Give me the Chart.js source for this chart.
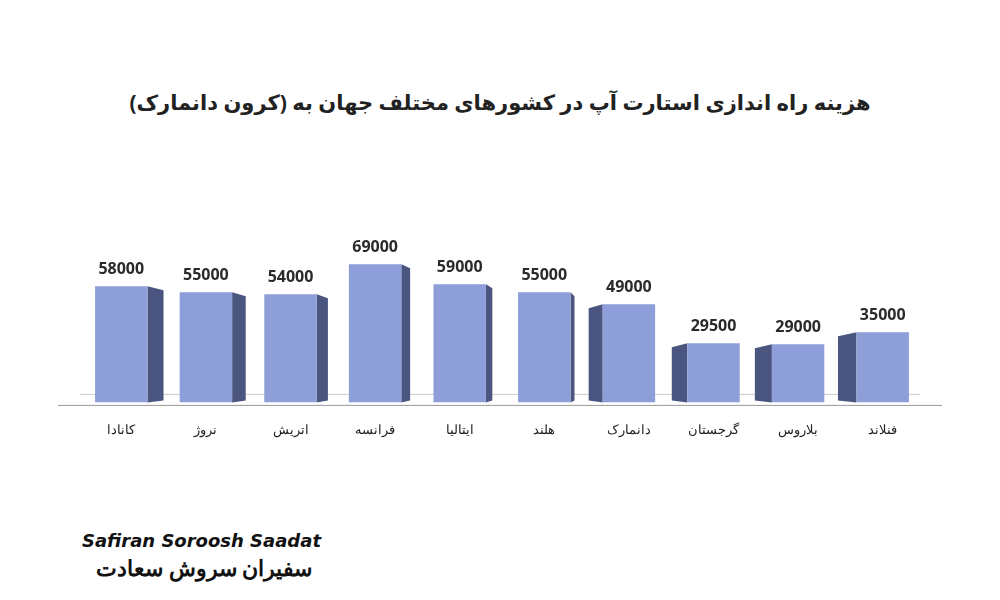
<!DOCTYPE html>
<html>
<head>
<meta charset="utf-8">
<script src="https://cdn.jsdelivr.net/npm/chart.js@4"></script>
<style>
  body { margin: 0; background: #fff; font-family: "Noto Sans", "DejaVu Sans", sans-serif; }
  #title { position: absolute; top: 88px; left: 0; width: 1000px; text-align: center;
           font-size: 21px; font-weight: bold; color: #222; direction: rtl; }
  #wrap { position: absolute; left: 0; top: 190px; width: 1000px; height: 260px; }
  #logo1 { position: absolute; left: 82px; top: 530px; font: italic bold 18px "DejaVu Sans"; color: #111; }
  #logo2 { position: absolute; left: 96px; top: 552px; font: bold 22px "Noto Sans"; color: #111; direction: rtl; }
</style>
</head>
<body>
<div id="title">هزینه راه اندازی استارت آپ در کشورهای مختلف جهان به (کرون دانمارک)</div>
<div id="wrap"><canvas id="chart"></canvas></div>
<div id="logo1">Safiran Soroosh Saadat</div>
<div id="logo2">سفیران سروش سعادت</div>
<script>
// countries, left to right as in the picture
const countries = ['کانادا', 'نروژ', 'اتریش', 'فرانسه', 'ایتالیا', 'هلند', 'دانمارک', 'گرجستان', 'بلاروس', 'فنلاند'];
// startup cost in danish krone
const costs = [58000, 55000, 54000, 69000, 59000, 55000, 49000, 29500, 29000, 35000];

const COLOR_FRONT = '#8e9ed8';
const COLOR_SIDE = '#4b5680';

// draws a dark side face next to each bar so it looks a bit 3d
const sidePlugin = {
    id: 'sides',
    beforeDatasetsDraw(chart) {
        const ctx = chart.ctx;
        const bars = chart.getDatasetMeta(0).data;
        const bottom = chart.scales.y.bottom;
        ctx.save();
        // floor lines
        ctx.strokeStyle = '#999';
        ctx.lineWidth = 1;
        ctx.beginPath();
        ctx.moveTo(58, bottom + 3);
        ctx.lineTo(942, bottom + 3);
        ctx.stroke();
        ctx.strokeStyle = '#ccc';
        ctx.beginPath();
        ctx.moveTo(80, bottom - 8);
        ctx.lineTo(920, bottom - 8);
        ctx.stroke();
        ctx.fillStyle = COLOR_SIDE;
        for (let i = 0; i < bars.length; i++) {
            const b = bars[i];
            const half = b.width / 2;
            ctx.beginPath();
            if (i < 6) {
                // right-hand face, narrower toward the middle
                const d = 16 - i * 2.4;
                const x = b.x + half;
                ctx.moveTo(x, b.y);
                ctx.lineTo(x + d, b.y + 4);
                ctx.lineTo(x + d, bottom - 2);
                ctx.lineTo(x, bottom);
            } else {
                const d = 14 + (i - 6) * 1.5;
                const x = b.x - half;
                ctx.moveTo(x, b.y);
                ctx.lineTo(x - d, b.y + 4);
                ctx.lineTo(x - d, bottom - 2);
                ctx.lineTo(x, bottom);
            }
            ctx.closePath();
            ctx.fill();
        }
        ctx.restore();
    },
    afterDatasetsDraw(chart) {
        const ctx = chart.ctx;
        const bars = chart.getDatasetMeta(0).data;
        ctx.save();
        ctx.fillStyle = '#2a2a2a';
        ctx.font = 'bold 16px "Open Sans"';
        ctx.textAlign = 'center';
        for (let i = 0; i < bars.length; i++) {
            ctx.fillText(String(costs[i]), bars[i].x, bars[i].y - 12);
        }
        ctx.restore();
    }
};

new Chart(document.getElementById('chart'), {
    type: 'bar',
    data: {
        labels: countries,
        datasets: [{ data: costs, backgroundColor: COLOR_FRONT, borderWidth: 0 }]
    },
    options: {
        responsive: true,
        maintainAspectRatio: false,
        animation: false,
        layout: { padding: { left: 79, right: 75, top: 0, bottom: 0 } },
        plugins: { legend: { display: false }, tooltip: { enabled: false } },
        datasets: { bar: { barPercentage: 0.62, categoryPercentage: 1 } },
        scales: {
            x: {
                grid: { display: false },
                border: { display: false },
                ticks: { color: '#222', font: { size: 13, family: 'Noto Sans' }, padding: 12 }
            },
            y: { display: false, min: 0, max: 106000 }
        }
    },
    plugins: [sidePlugin]
});
</script>
</body>
</html>
